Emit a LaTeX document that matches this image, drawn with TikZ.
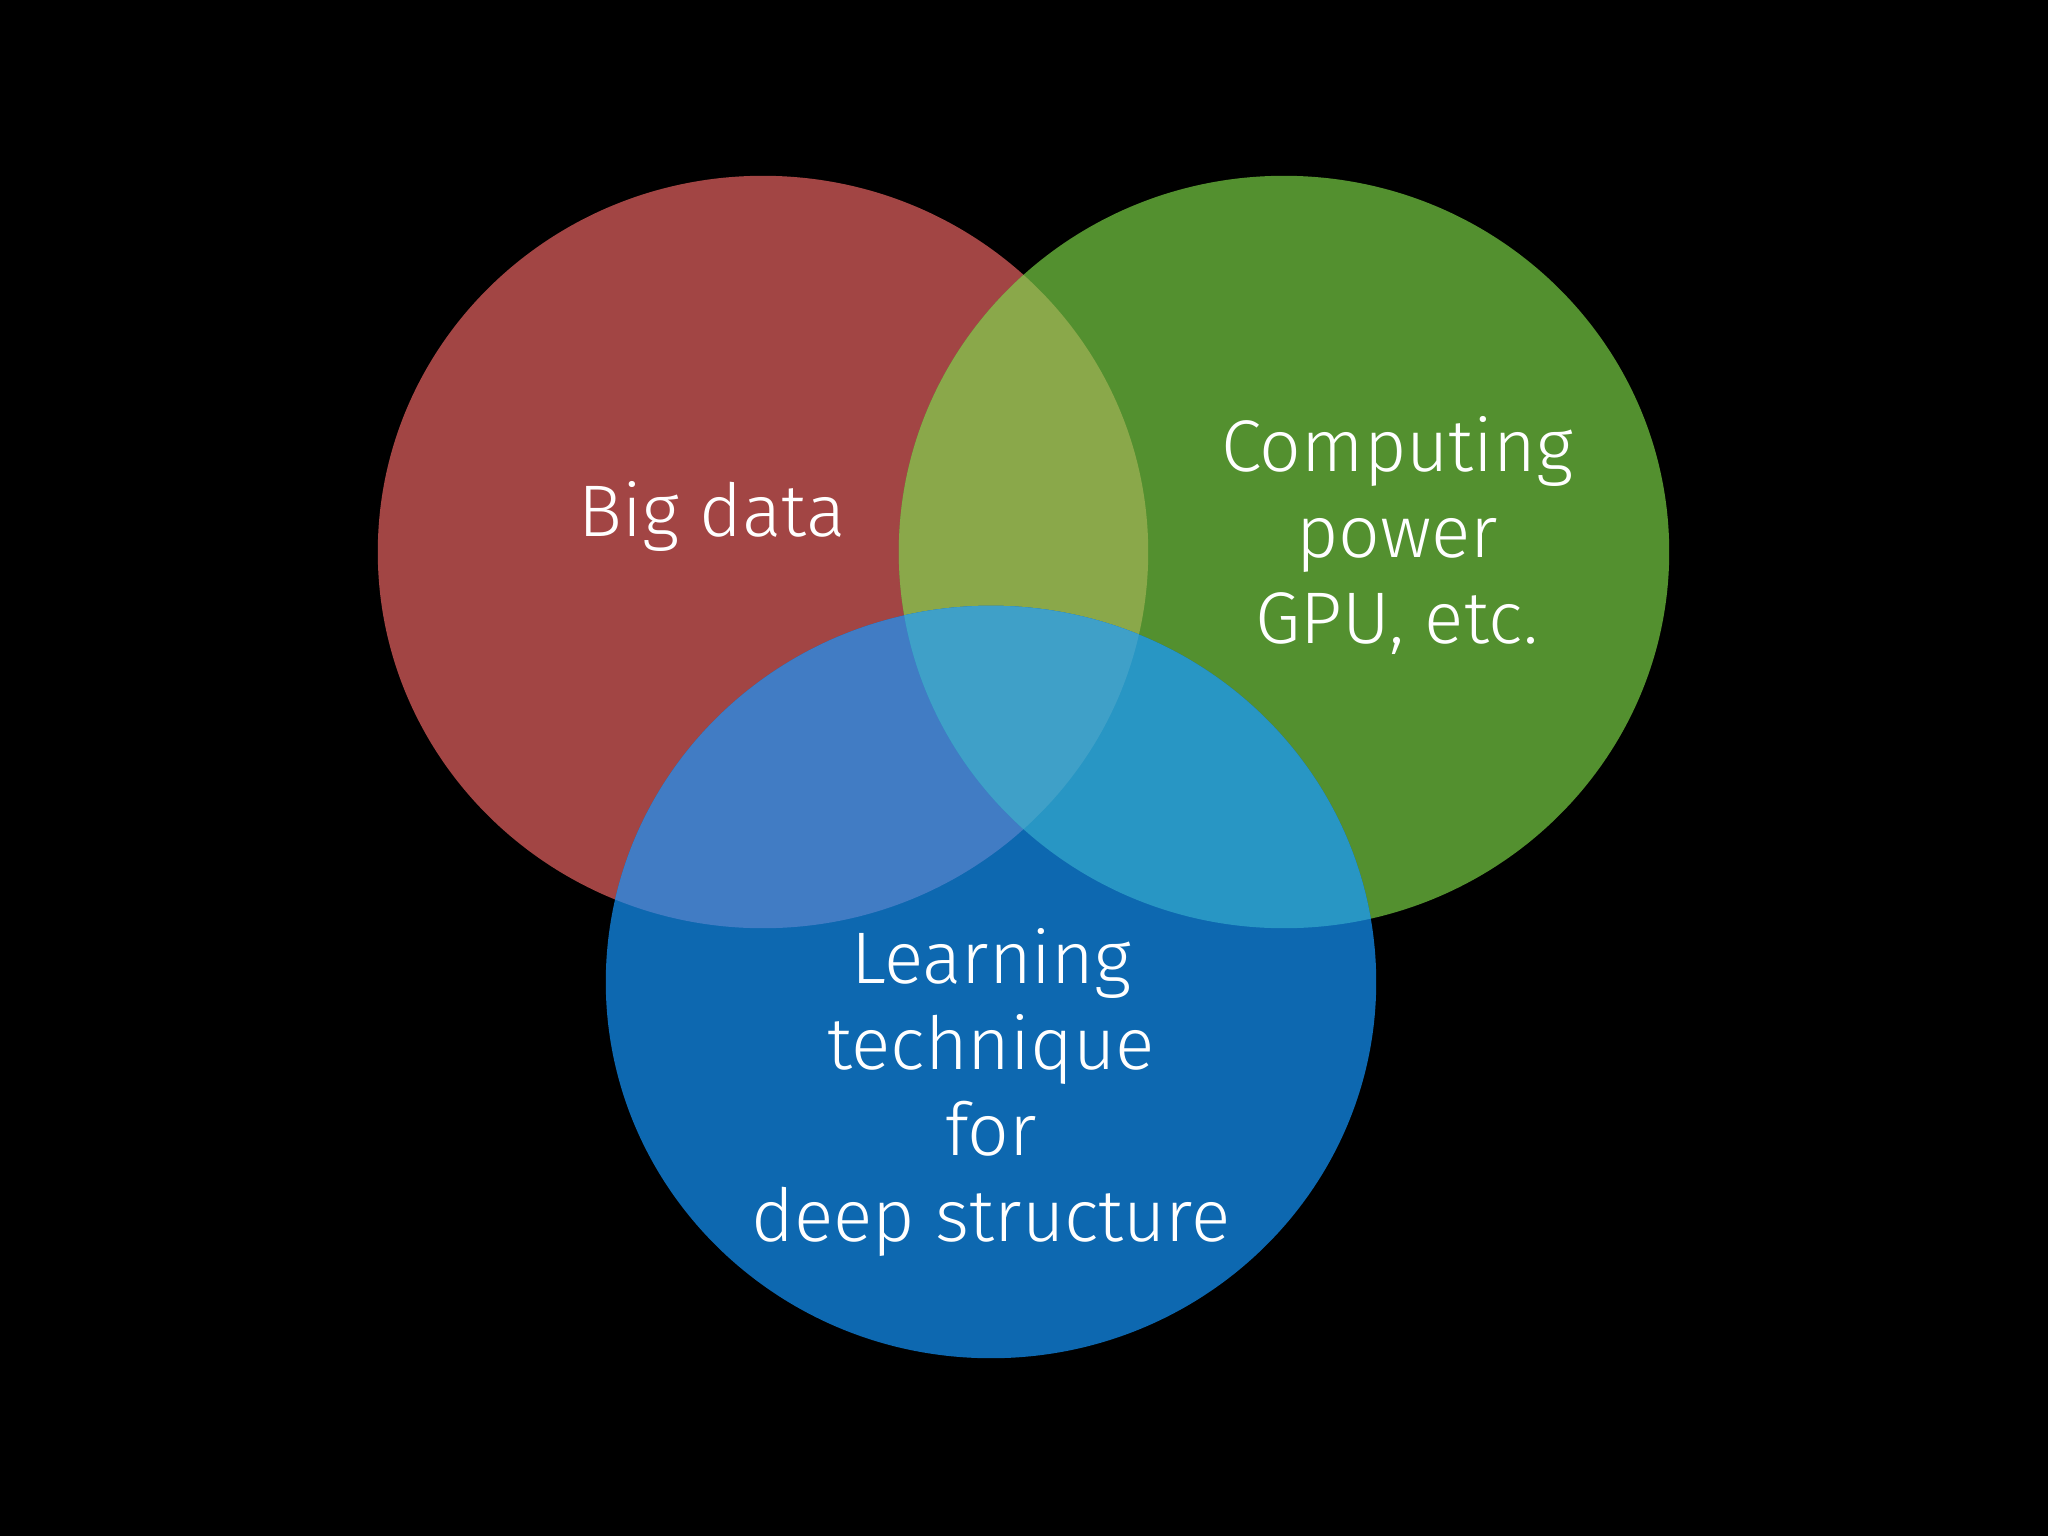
\documentclass[tikz,border=0pt]{standalone}
\usepackage{fontspec}
\setmainfont{Fira Sans}[UprightFont={* Light}]
\definecolor{bigred}{HTML}{A24544}
\definecolor{gpugreen}{HTML}{53902F}
\definecolor{redgreen}{HTML}{8AA84A}
\definecolor{learnblue}{HTML}{0D68B0}
\definecolor{bluered}{HTML}{417CC4}
\definecolor{bluegreen}{HTML}{2896C4}
\definecolor{allthree}{HTML}{3FA0C8}
\newcommand\reddisc{(763,552) ellipse [x radius=3.85cm, y radius=3.76cm]}
\newcommand\greendisc{(1284,552) ellipse [x radius=3.85cm, y radius=3.76cm]}
\newcommand\bluedisc{(991,982) ellipse [x radius=3.85cm, y radius=3.76cm]}
\begin{document}
\begin{tikzpicture}[x=0.01cm,y=-0.01cm]
		\tikzset{label/.style = {text=white,align=center,inner sep=0pt,
			font=\fontsize{20.8pt}{24.4pt}\selectfont}}
		\fill[black] (0,0) rectangle (2048,1536);
		% the three sets
		\fill[bigred] \reddisc;
		\fill[gpugreen] \greendisc;
		\begin{scope}
			\clip \reddisc;
			\fill[redgreen] \greendisc;
		\end{scope}
		\fill[learnblue] \bluedisc;
		\begin{scope}
			\clip \bluedisc;
			\fill[bluered] \reddisc;
			\fill[bluegreen] \greendisc;
			\clip \reddisc;
			\fill[allthree] \greendisc;
		\end{scope}
		% labels (base = last line)
		\node[label,anchor=base] (data) at (712,536) {Big data};
		\node[label,anchor=base] (gpu) at (1397,643) {Computing\\power\\GPU, etc.};
		\node[label,anchor=base] (learn) at (991,1241) {Learning\\technique\\for\\deep structure};
	\end{tikzpicture}
\end{document}
